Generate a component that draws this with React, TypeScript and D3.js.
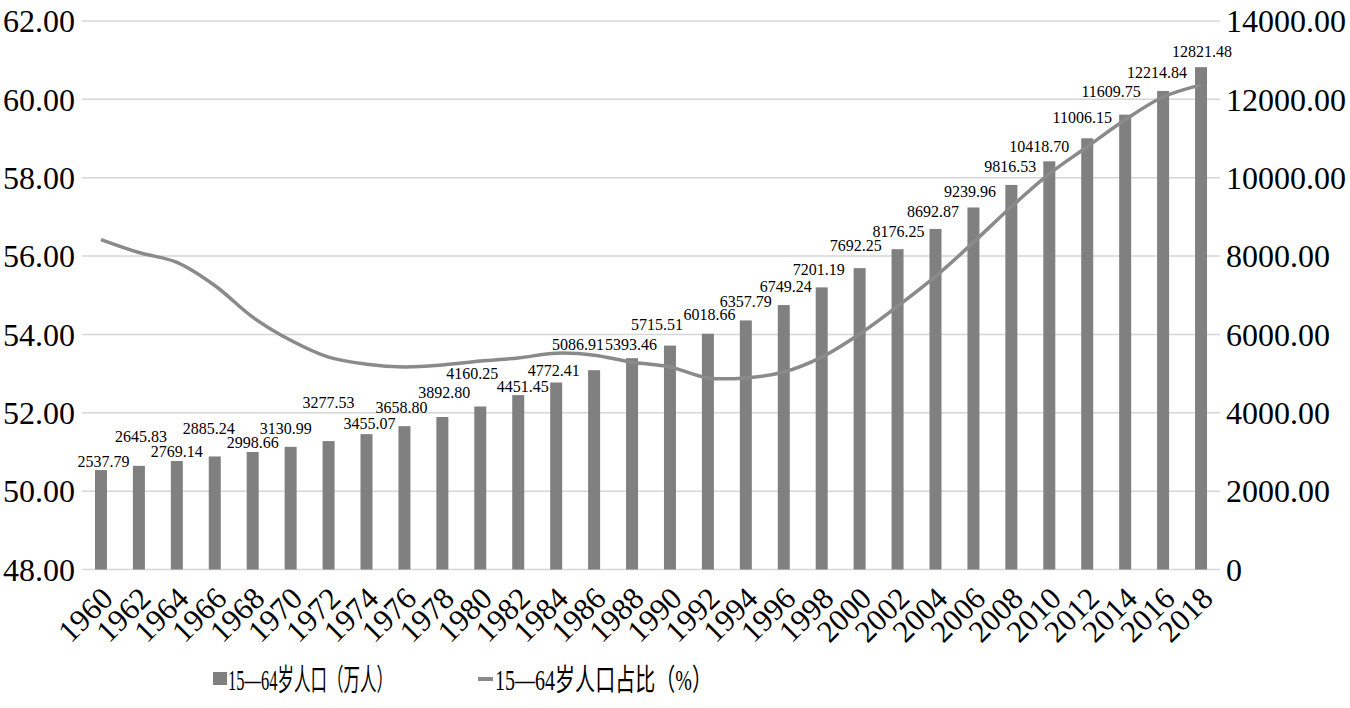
import React, { useLayoutEffect, useRef } from "react";
import * as d3 from "d3";

const years: string[] = [
  "1960","1962","1964","1966","1968","1970","1972","1974","1976","1978",
  "1980","1982","1984","1986","1988","1990","1992","1994","1996","1998",
  "2000","2002","2004","2006","2008","2010","2012","2014","2016","2018",
];

const population: number[] = [
  2537.79, 2645.83, 2769.14, 2885.24, 2998.66, 3130.99, 3277.53, 3455.07, 3658.8, 3892.8,
  4160.25, 4451.45, 4772.41, 5086.91, 5393.46, 5715.51, 6018.66, 6357.79, 6749.24, 7201.19,
  7692.25, 8176.25, 8692.87, 9239.96, 9816.53, 10418.7, 11006.15, 11609.75, 12214.84, 12821.48,
];

const share: number[] = [
  56.42, 56.09, 55.84, 55.25, 54.44, 53.85, 53.42, 53.24, 53.17, 53.22,
  53.32, 53.4, 53.52, 53.47, 53.29, 53.17, 52.89, 52.89, 53.04, 53.42,
  54.01, 54.72, 55.48, 56.35, 57.26, 58.1, 58.79, 59.48, 60.06, 60.37,
];

const leftTicks: number[] = [48, 50, 52, 54, 56, 58, 60, 62];
const rightTicks: number[] = [0, 2000, 4000, 6000, 8000, 10000, 12000, 14000];

const legendBar = "15—64岁人口（万人）";
const legendLine = "15—64岁人口占比（%）";

// label nudges (px) relative to bar top-centre, mimicking the reference's manual placement
const labelNudgeX: number[] = [
  2.5, 2, 0, -6, 0, -5, 0, 3, -3, 2, -8, 4.5, -2.5, -16, -1, -13, 1.5, 0, 2, -3,
  -4, 1, -2.5, -3.5, -1, -10, -5, -14, -6, 1,
];
const labelNudgeY: number[] = [
  -3, -24, -4, -22.5, -4, -13, -33, -5, -13.5, -19, -27.5, -3.5, -7, -20, -8, -15.5, -14, -13.5, -13, -12.5,
  -17, -12.5, -12, -10.5, -13, -9, -15, -18, -13, -10,
];

const W = 1350;
const H = 708;
const plotLeft = 82;
const plotRight = 1220;
const plotTop = 21;
const plotBottom = 569.5;

const serif = "Liberation Serif, Times New Roman, serif";
const cjk = "Liberation Serif, Noto Sans CJK SC, serif";

function FittedText(props: { x: number; y: number; width: number; text: string }) {
  const ref = useRef<SVGTextElement>(null);
  useLayoutEffect(() => {
    const el = ref.current;
    if (!el) return;
    const natural = el.getComputedTextLength();
    const sx = natural > 0 ? props.width / natural : 1;
    el.setAttribute("transform", `translate(${props.x},${props.y}) scale(${sx},1)`);
  }, [props.x, props.y, props.width, props.text]);
  return (
    <text
      ref={ref}
      transform={`translate(${props.x},${props.y}) scale(0.55,1)`}
      style={{ fontFamily: cjk, fontSize: 30 }}
      fill="#000"
    >
      {props.text}
    </text>
  );
}

export default function App() {
  const x = d3.scaleBand<string>().domain(years).range([plotLeft, plotRight]).padding(0);
  const yL = d3.scaleLinear().domain([48, 62]).range([plotBottom, plotTop]);
  const yR = d3.scaleLinear().domain([0, 14000]).range([plotBottom, plotTop]);
  const barW = 12;
  const cx = (y: string) => (x(y) as number) + x.bandwidth() / 2;

  const line = d3
    .line<number>()
    .x((_, i) => cx(years[i]))
    .y((d) => yL(d))
    .curve(d3.curveCatmullRom.alpha(0.5));

  return (
    <svg
      width={W}
      height={H}
      viewBox={`0 0 ${W} ${H}`}
      style={{ position: "absolute", left: 0, top: 0, background: "#fff" }}
    >
      <rect x={0} y={0} width={W} height={H} fill="#fff" />
      {leftTicks.map((t) => (
        <line
          key={"g" + t}
          x1={plotLeft}
          x2={plotRight}
          y1={yL(t)}
          y2={yL(t)}
          stroke="#d6d6d6"
          strokeWidth={1.5}
        />
      ))}
      {leftTicks.map((t) => (
        <text
          key={"l" + t}
          x={75}
          y={yL(t)}
          dy="0.35em"
          textAnchor="end"
          style={{ fontFamily: serif, fontSize: 32 }}
          fill="#000"
        >
          {t.toFixed(2)}
        </text>
      ))}
      {rightTicks.map((t) => (
        <text
          key={"r" + t}
          x={1226}
          y={yR(t)}
          dy="0.35em"
          textAnchor="start"
          style={{ fontFamily: serif, fontSize: 32 }}
          fill="#000"
        >
          {t === 0 ? "0" : t.toFixed(2)}
        </text>
      ))}
      {population.map((v, i) => (
        <rect
          key={"b" + i}
          x={cx(years[i]) - barW / 2}
          y={yR(v)}
          width={barW}
          height={plotBottom - yR(v)}
          fill="#808080"
        />
      ))}
      <path d={line(share) || ""} fill="none" stroke="#8a8a8a" strokeWidth={3.5} strokeLinejoin="round" />
      {population.map((v, i) => (
        <text
          key={"d" + i}
          x={cx(years[i]) + labelNudgeX[i]}
          y={yR(v) + labelNudgeY[i]}
          textAnchor="middle"
          style={{ fontFamily: serif, fontSize: 16 }}
          fill="#000"
        >
          {v.toFixed(2)}
        </text>
      ))}
      {years.map((y) => (
        <text
          key={"y" + y}
          transform={`translate(${cx(y) + 6},${plotBottom + 23}) rotate(-45)`}
          dy="0.35em"
          textAnchor="end"
          style={{ fontFamily: serif, fontSize: 31 }}
          fill="#000"
        >
          {y}
        </text>
      ))}
      <rect x={213} y={672} width={14} height={13} fill="#808080" />
      <FittedText x={228} y={690} width={165} text={legendBar} />
      <line x1={478} x2={493} y1={679} y2={679} stroke="#8a8a8a" strokeWidth={4} />
      <FittedText x={495} y={690} width={217} text={legendLine} />
    </svg>
  );
}
